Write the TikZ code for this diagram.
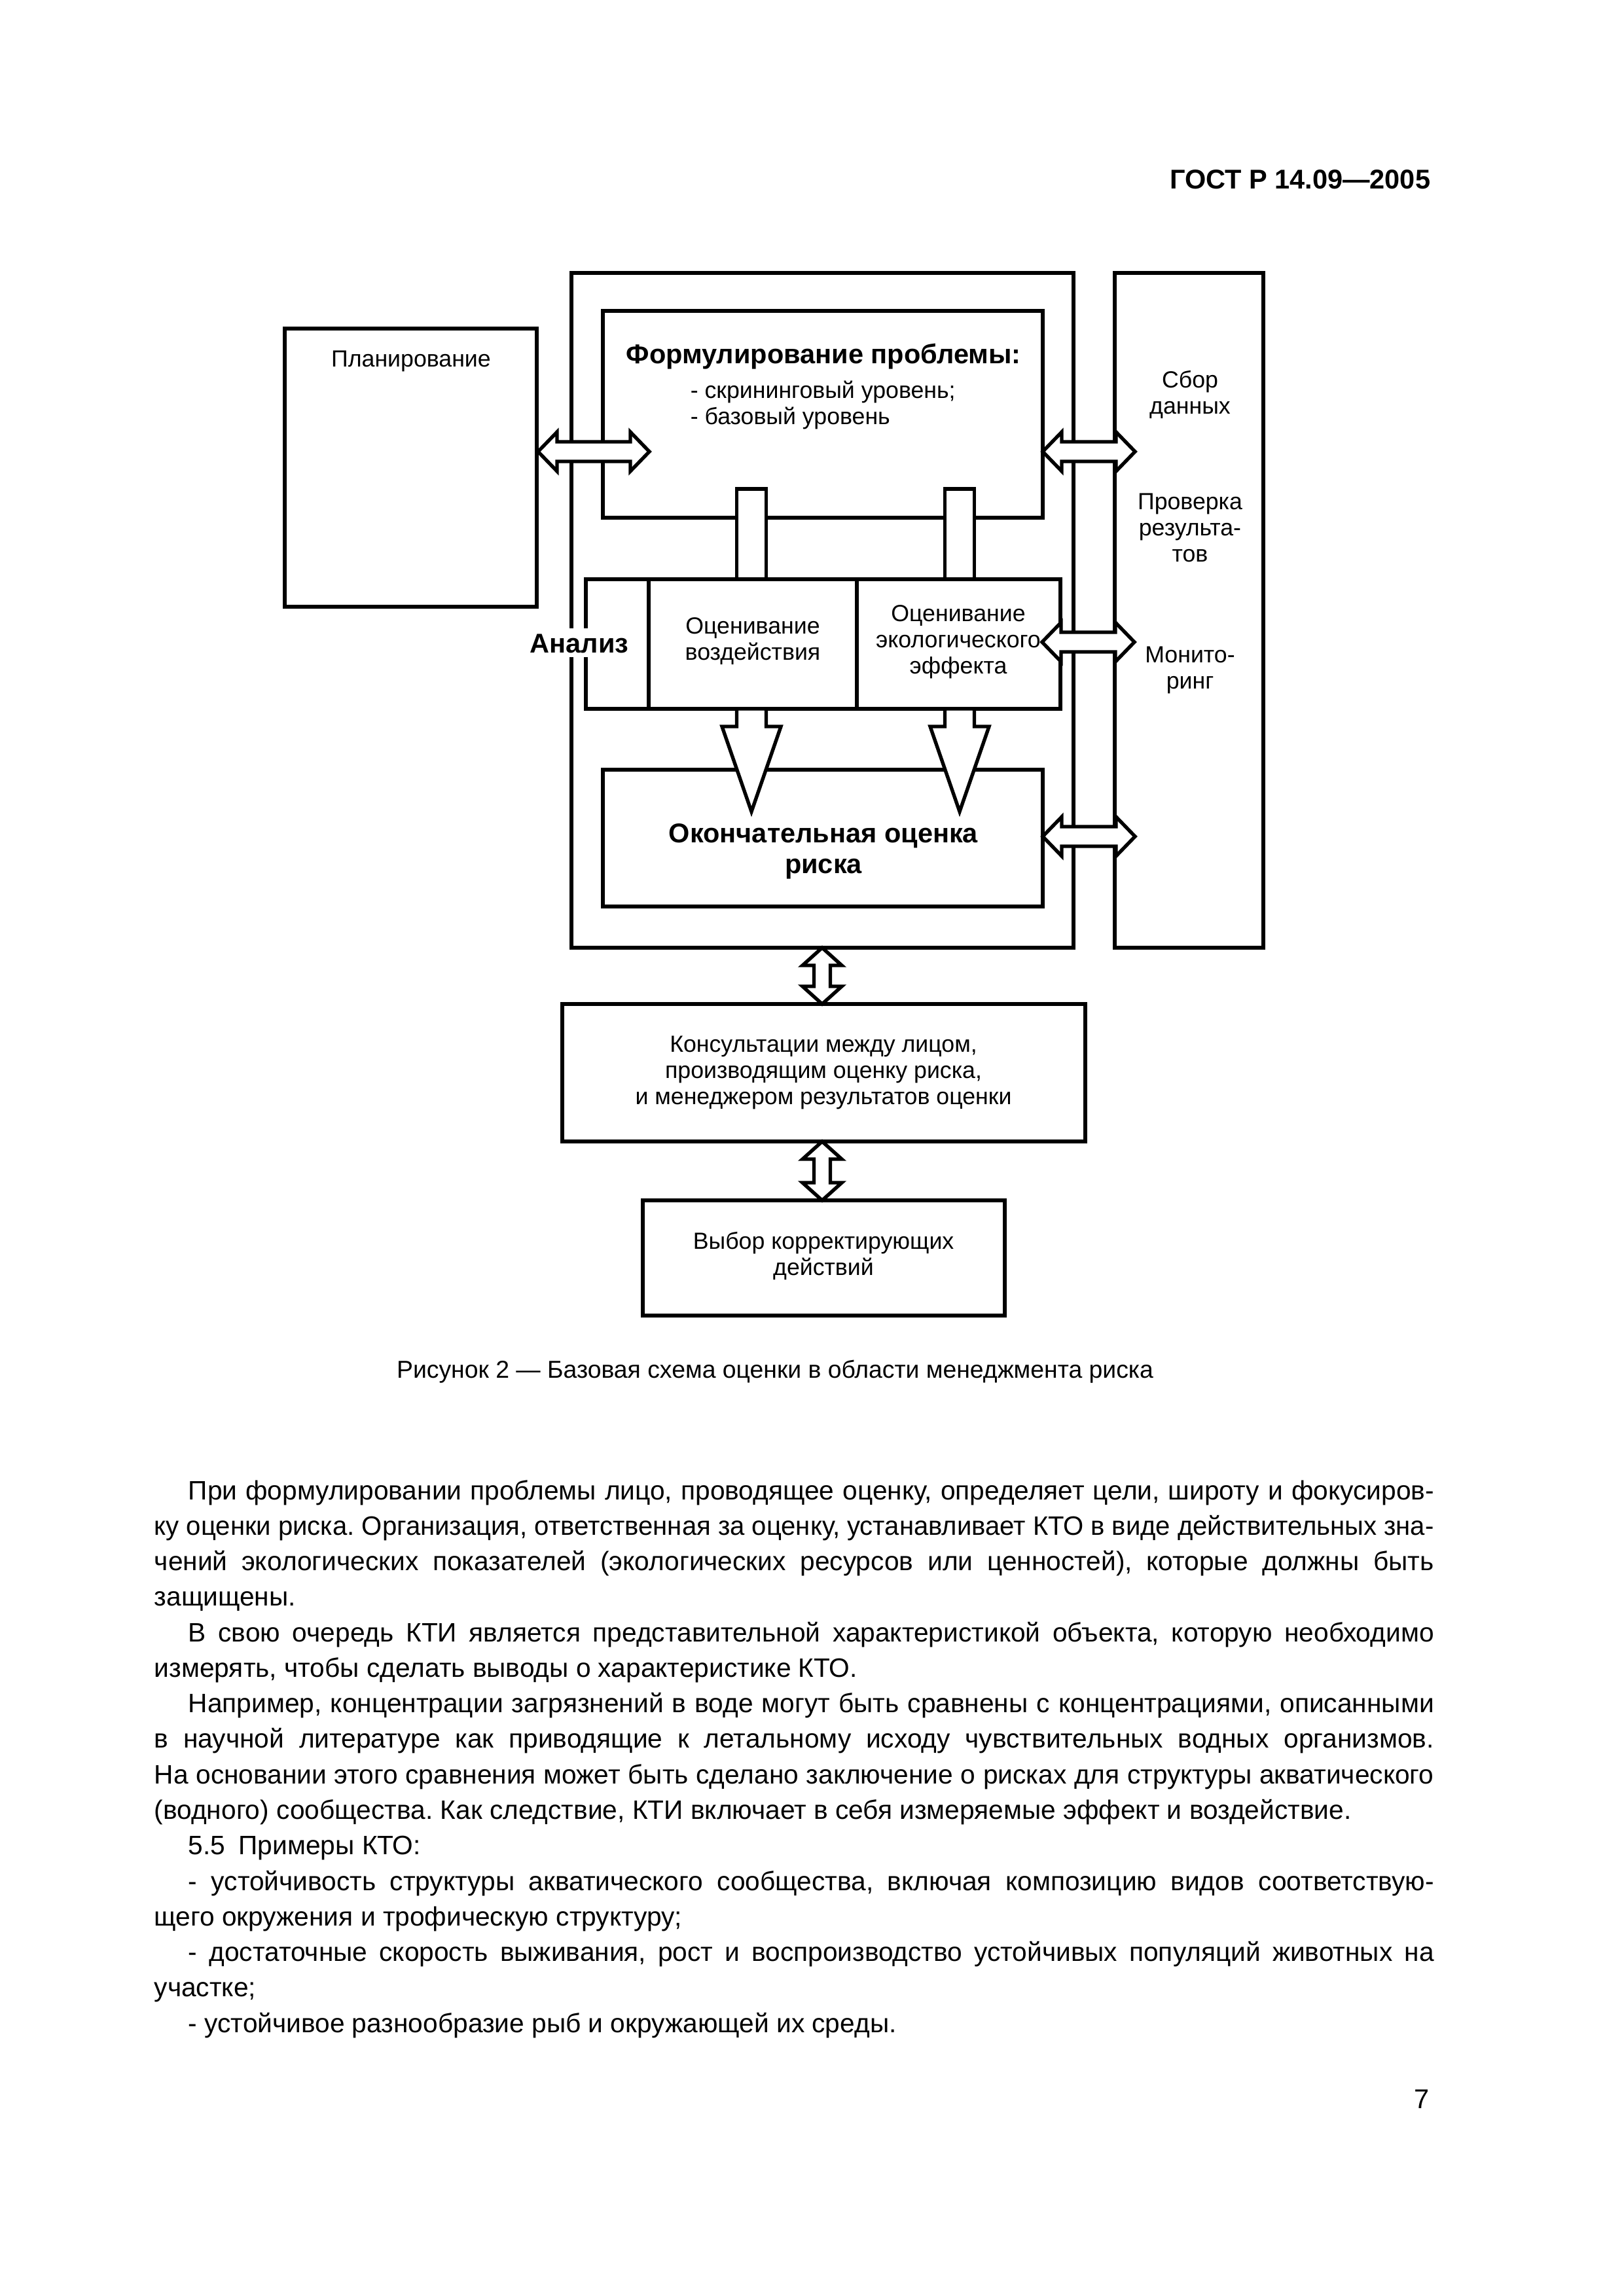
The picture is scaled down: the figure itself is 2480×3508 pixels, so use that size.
\documentclass[tikz,border=0pt]{standalone}
\usepackage{fontspec}
\usepackage{graphicx}
\setmainfont{Liberation Sans}
\frenchspacing
\newcommand\hdarr[3]{\draw[blk] (#1,#3) -- ++(29,-30) -- ++(0,15) -- ({#2-29},{#3-15}) -- ++(0,-15) -- (#2,#3) -- ++(-29,30) -- ++(0,-15) -- ({#1+29},{#3+15}) -- ++(0,15) -- cycle;}
\newcommand\vdarr[3]{\draw[blk] (#1,#2) -- ++(30,27) -- ++(-17.5,0) -- ({#1+12.5},{#3-27}) -- ++(17.5,0) -- (#1,#3) -- ++(-30,-27) -- ++(17.5,0) -- ({#1-12.5},{#2+27}) -- ++(-17.5,0) -- cycle;}
\newcommand\dnarr[1]{\draw[blk] ({#1-22.5},1083) -- ({#1-22.5},1110) -- ({#1-45},1110) -- (#1,1240) -- ({#1+45},1110) -- ({#1+22.5},1110) -- ({#1+22.5},1083) -- cycle;}
\newcommand\pipe[1]{\draw[blk] ({#1-22.5},747) rectangle ({#1+22.5},885);}
\newlength\fullj \setlength\fullj{16.554cm}
\newlength\indj \setlength\indj{16.114cm}
\newsavebox\lbox
\newcommand\jline[2]{\sbox\lbox{#2}\ifdim\wd\lbox>#1\relax\resizebox{#1}{\height}{\usebox\lbox}\else\makebox[#1][s]{#2}\fi}
\begin{document}
\begin{tikzpicture}[x=0.0084677cm,y=-0.0084677cm,
  box/.style={draw,line width=1.45pt},
  blk/.style={draw,fill=white,line width=1.3pt,line join=miter},
  dtxt/.style={font=\fontsize{8.6}{9.64}\selectfont,align=center,inner sep=0pt},
  btxt/.style={font=\bfseries\fontsize{10}{11.3}\selectfont,align=center,inner sep=0pt},
  bodyl/.style={anchor=west,inner sep=0pt,font=\fontsize{9.8}{13}\selectfont,text height=7.4pt,text depth=2.1pt}]
\fill[white] (0,0) rectangle (2480,3508);
\useasboundingbox (0,0) rectangle (2480,3508);
% header
\node[anchor=east,inner sep=0pt,font=\bfseries\fontsize{10}{12}\selectfont] (hdr) at (2186,274) {ГОСТ Р 14.09—2005};
% boxes
\draw[box] (873,417) rectangle (1640,1448);
\draw[box] (1703,417) rectangle (1930,1448);
\draw[box] (435,502) rectangle (820,927);
\draw[box] (921,475) rectangle (1593,791);
\draw[box] (895,885) rectangle (1620,1083);
\draw[box] (991,885) -- (991,1083);
\draw[box] (1309,885) -- (1309,1083);
\draw[box] (921,1176) rectangle (1593,1385);
\draw[box] (859,1534) rectangle (1658,1744);
\draw[box] (982,1834) rectangle (1535,2010);
% pipes and arrows
\pipe{1148}
\pipe{1466}
\dnarr{1148}
\dnarr{1466}
\hdarr{822}{992}{690}
\hdarr{1593}{1734}{690}
\hdarr{1592}{1733}{981}
\hdarr{1593}{1734}{1278}
\vdarr{1256}{1448}{1534}
\vdarr{1256}{1744}{1834}
% texts
\node[dtxt] (tplan) at (628,552) {Планирование};
\node[btxt] (tform) at (1258,545) {Формулирование проблемы:};
\node[dtxt,align=left,anchor=west] (tlist) at (1054,619) {- скрининговый уровень;\\- базовый уровень};
\node[dtxt] (tsbor) at (1818,603) {Сбор\\данных};
\node[dtxt] (tprov) at (1818,806) {Проверка\\результа-\\тов};
\node[dtxt] (tmon) at (1818,1024) {Монито-\\ринг};
\node[dtxt] (tc1) at (1150,980) {Оценивание\\воздействия};
\node[dtxt] (tc2) at (1464,981) {Оценивание\\экологического\\эффекта};
\node[btxt] (tfin) at (1258,1301) {Окончательная оценка\\риска};
\node[dtxt] (tcons) at (1258,1639) {Консультации между лицом,\\производящим оценку риска,\\и менеджером результатов оценки};
\node[dtxt] (tchoice) at (1258,1919) {Выбор корректирующих\\действий};
\node[anchor=base,fill=white,inner xsep=0pt,inner ysep=1pt,text height=7.8pt,text depth=0.8pt,font=\bfseries\fontsize{10}{12}\selectfont] (tanal) at (885,997) {Анализ};
% caption
\node[inner sep=0pt,font=\fontsize{9}{11}\selectfont] (cap) at (1184,2096) {Рисунок 2 — Базовая схема оценки в области менеджмента риска};
% body
\node[bodyl] (b0) at (287,2280) {\jline{\indj}{При формулировании проблемы лицо, проводящее оценку, определяет цели, широту и фокусиров-}};
\node[bodyl] (b1) at (235,2334.3) {\jline{\fullj}{ку оценки риска. Организация, ответственная за оценку, устанавливает КТО в виде действительных зна-}};
\node[bodyl] (b2) at (235,2388.5) {\jline{\fullj}{чений экологических показателей (экологических ресурсов или ценностей), которые должны быть}};
\node[bodyl] (b3) at (235,2442.8) {защищены.};
\node[bodyl] (b4) at (287,2497.1) {\jline{\indj}{В свою очередь КТИ является представительной характеристикой объекта, которую необходимо}};
\node[bodyl] (b5) at (235,2551.4) {измерять, чтобы сделать выводы о характеристике КТО.};
\node[bodyl] (b6) at (287,2605.6) {\jline{\indj}{Например, концентрации загрязнений в воде могут быть сравнены с концентрациями, описанными}};
\node[bodyl] (b7) at (235,2659.9) {\jline{\fullj}{в научной литературе как приводящие к летальному исходу чувствительных водных организмов.}};
\node[bodyl] (b8) at (235,2714.2) {\jline{\fullj}{На основании этого сравнения может быть сделано заключение о рисках для структуры акватического}};
\node[bodyl] (b9) at (235,2768.4) {(водного) сообщества. Как следствие, КТИ включает в себя измеряемые эффект и воздействие.};
\node[bodyl] (b10) at (287,2822.7) {5.5\enspace Примеры КТО:};
\node[bodyl] (b11) at (287,2877) {\jline{\indj}{- устойчивость структуры акватического сообщества, включая композицию видов соответствую-}};
\node[bodyl] (b12) at (235,2931.2) {щего окружения и трофическую структуру;};
\node[bodyl] (b13) at (287,2985.5) {\jline{\indj}{- достаточные скорость выживания, рост и воспроизводство устойчивых популяций животных на}};
\node[bodyl] (b14) at (235,3039.8) {участке;};
\node[bodyl] (b15) at (287,3094) {- устойчивое разнообразие рыб и окружающей их среды.};
\node[anchor=east,inner sep=0pt,font=\fontsize{10}{12}\selectfont] (pg) at (2184,3207) {7};
\end{tikzpicture}
\end{document}
